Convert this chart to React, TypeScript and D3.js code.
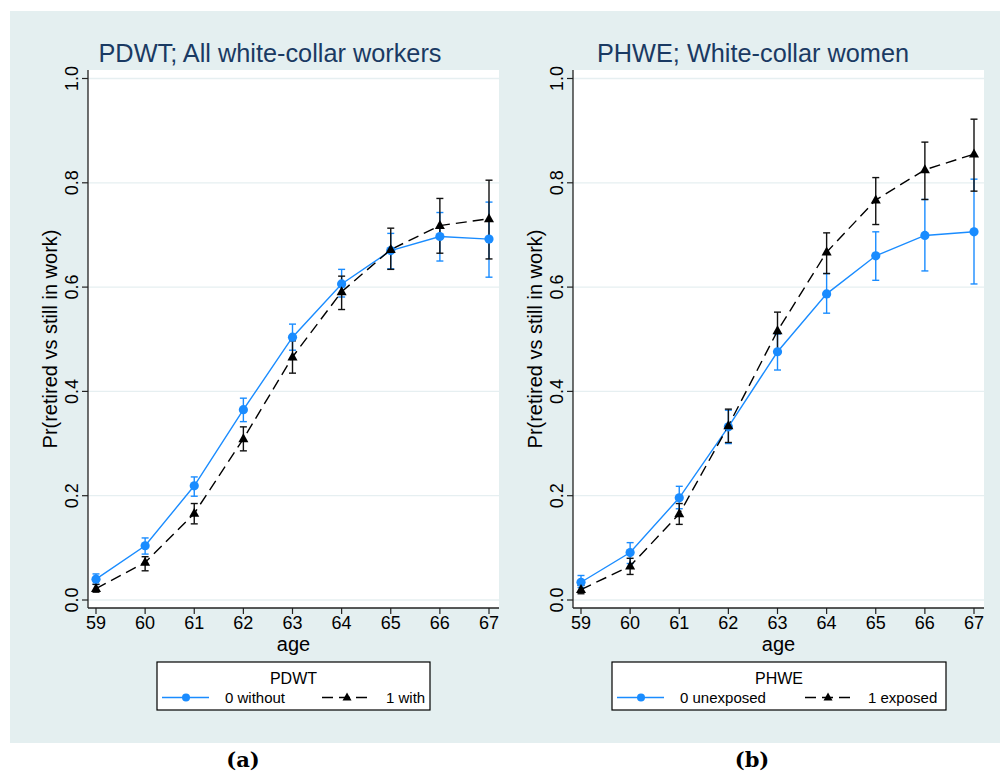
import React from "react";
import * as d3 from "d3";

const ages = [59, 60, 61, 62, 63, 64, 65, 66, 67];
const yTicks = [0, 0.2, 0.4, 0.6, 0.8, 1.0];

const leftWithout = [0.040, 0.104, 0.219, 0.365, 0.504, 0.606, 0.670, 0.697, 0.692];
const leftWithoutLo = [0.030, 0.088, 0.199, 0.342, 0.479, 0.581, 0.635, 0.650, 0.619];
const leftWithoutHi = [0.050, 0.119, 0.236, 0.387, 0.529, 0.634, 0.703, 0.743, 0.763];
const leftWith = [0.022, 0.072, 0.166, 0.309, 0.466, 0.591, 0.672, 0.718, 0.731];
const leftWithLo = [0.015, 0.056, 0.146, 0.286, 0.435, 0.557, 0.634, 0.665, 0.654];
const leftWithHi = [0.030, 0.083, 0.185, 0.332, 0.497, 0.621, 0.713, 0.770, 0.805];

const rightUnexp = [0.034, 0.091, 0.196, 0.332, 0.476, 0.587, 0.660, 0.699, 0.706];
const rightUnexpLo = [0.024, 0.070, 0.175, 0.300, 0.441, 0.550, 0.613, 0.631, 0.606];
const rightUnexpHi = [0.047, 0.110, 0.218, 0.364, 0.510, 0.626, 0.706, 0.768, 0.807];
const rightExp = [0.020, 0.065, 0.165, 0.334, 0.516, 0.667, 0.767, 0.825, 0.855];
const rightExpLo = [0.012, 0.049, 0.145, 0.302, 0.480, 0.626, 0.720, 0.768, 0.784];
const rightExpHi = [0.028, 0.080, 0.185, 0.366, 0.552, 0.704, 0.810, 0.878, 0.922];

const BLUE = "#1a8cff";
const BG = "#e4eff0";
const GRID = "#e6eff1";
const FONT = "'Liberation Sans', Arial, sans-serif";
const TITLE_COLOR = "#1a3a63";

type PanelProps = {
  left: number;
  right: number;
  title: string;
  titleX: number;
  legendTitle: string;
  label0: string;
  label1: string;
  legendBox: [number, number];
  leg0: [number, number, number, number];
  leg1: [number, number, number, number];
  s0: number[];
  s0lo: number[];
  s0hi: number[];
  s1: number[];
  s1lo: number[];
  s1hi: number[];
  caption: string;
  captionX: number;
};

const TOP = 70;
const BOTTOM = 608;

function triPath(cx: number, cy: number, s: number) {
  const h = s * 0.9;
  return `M${cx},${cy - h * 0.62}L${cx + s / 2},${cy + h * 0.38}L${cx - s / 2},${cy + h * 0.38}Z`;
}

function Panel(p: PanelProps) {
  const x = d3.scaleLinear().domain([59, 67]).range([p.left + 8, p.left + 401]);
  const y = d3.scaleLinear().domain([0, 1]).range([600, 78.5]);
  const line = d3
    .line<number>()
    .x((_, i) => x(ages[i]))
    .y((d) => y(d));
  const cap = 3.5;
  const midX = (p.left + p.right) / 2;
  const midY = (TOP + BOTTOM) / 2;
  return (
    <g>
      <rect x={p.left} y={TOP} width={p.right - p.left} height={BOTTOM - TOP} fill="#fff" />
      {yTicks.map((t) => (
        <line key={"g" + t} x1={p.left} x2={p.right} y1={y(t)} y2={y(t)} stroke={GRID} strokeWidth={1.3} />
      ))}
      {ages.map((a, i) => (
        <g key={"e0" + a} stroke={BLUE} strokeWidth={1.4}>
          <line x1={x(a)} x2={x(a)} y1={y(p.s0lo[i])} y2={y(p.s0hi[i])} />
          <line x1={x(a) - cap} x2={x(a) + cap} y1={y(p.s0lo[i])} y2={y(p.s0lo[i])} />
          <line x1={x(a) - cap} x2={x(a) + cap} y1={y(p.s0hi[i])} y2={y(p.s0hi[i])} />
        </g>
      ))}
      {ages.map((a, i) => (
        <g key={"e1" + a} stroke="#111" strokeWidth={1.4}>
          <line x1={x(a)} x2={x(a)} y1={y(p.s1lo[i])} y2={y(p.s1hi[i])} />
          <line x1={x(a) - cap} x2={x(a) + cap} y1={y(p.s1lo[i])} y2={y(p.s1lo[i])} />
          <line x1={x(a) - cap} x2={x(a) + cap} y1={y(p.s1hi[i])} y2={y(p.s1hi[i])} />
        </g>
      ))}
      <path d={line(p.s0) || ""} fill="none" stroke={BLUE} strokeWidth={1.4} />
      <path d={line(p.s1) || ""} fill="none" stroke="#000" strokeWidth={1.4} strokeDasharray="11,6" />
      {ages.map((a, i) => (
        <circle key={"m0" + a} cx={x(a)} cy={y(p.s0[i])} r={4.6} fill={BLUE} />
      ))}
      {ages.map((a, i) => (
        <path key={"m1" + a} d={triPath(x(a), y(p.s1[i]), 10)} fill="#000" />
      ))}
      <line x1={p.left} x2={p.left} y1={TOP} y2={BOTTOM} stroke="#222" strokeWidth={1.3} />
      <line x1={p.left} x2={p.right} y1={BOTTOM} y2={BOTTOM} stroke="#222" strokeWidth={1.3} />
      {yTicks.map((t) => (
        <g key={"yt" + t}>
          <line x1={p.left - 6} x2={p.left} y1={y(t)} y2={y(t)} stroke="#222" strokeWidth={1.2} />
          <text
            transform={`translate(${p.left - 10.5},${y(t)}) rotate(-90)`}
            textAnchor="middle"
            fontFamily={FONT}
            fontSize={18}
            fill="#000"
          >
            {t.toFixed(1)}
          </text>
        </g>
      ))}
      {ages.map((a) => (
        <g key={"xt" + a}>
          <line x1={x(a)} x2={x(a)} y1={BOTTOM} y2={BOTTOM + 6} stroke="#222" strokeWidth={1.2} />
          <text x={x(a)} y={629} textAnchor="middle" fontFamily={FONT} fontSize={18} fill="#000">
            {a}
          </text>
        </g>
      ))}
      <text x={midX} y={651} textAnchor="middle" fontFamily={FONT} fontSize={20} fill="#000">
        age
      </text>
      <text
        transform={`translate(${p.left - 31},${midY}) rotate(-90)`}
        textAnchor="middle"
        fontFamily={FONT}
        fontSize={20}
        fill="#000"
      >
        Pr(retired vs still in work)
      </text>
      <text x={p.titleX} y={62} textAnchor="middle" fontFamily={FONT} fontSize={25.3} fill={TITLE_COLOR}>
        {p.title}
      </text>
      <rect
        x={p.legendBox[0]}
        y={662}
        width={p.legendBox[1] - p.legendBox[0]}
        height={48}
        fill="#fff"
        stroke="#000"
        strokeWidth={1.2}
      />
      <text
        x={(p.legendBox[0] + p.legendBox[1]) / 2}
        y={683.5}
        textAnchor="middle"
        fontFamily={FONT}
        fontSize={16}
        fill="#000"
      >
        {p.legendTitle}
      </text>
      <line x1={p.leg0[0]} x2={p.leg0[1]} y1={697.5} y2={697.5} stroke={BLUE} strokeWidth={1.4} />
      <circle cx={p.leg0[2]} cy={697.5} r={4} fill={BLUE} />
      <text x={p.leg0[3]} y={703} fontFamily={FONT} fontSize={15} fill="#000">
        {p.label0}
      </text>
      <line
        x1={p.leg1[0]}
        x2={p.leg1[1]}
        y1={697.5}
        y2={697.5}
        stroke="#000"
        strokeWidth={1.4}
        strokeDasharray="11,6"
      />
      <path d={triPath(p.leg1[2], 697.5, 9)} fill="#000" />
      <text x={p.leg1[3]} y={703} fontFamily={FONT} fontSize={15} fill="#000">
        {p.label1}
      </text>
      <text
        x={p.captionX}
        y={767}
        textAnchor="middle"
        fontFamily="'DejaVu Serif', 'Liberation Serif', serif"
        fontWeight="bold"
        fontSize={21}
        fill="#000"
      >
        {p.caption}
      </text>
    </g>
  );
}

export default function App() {
  return (
    <svg
      width={1000}
      height={773}
      style={{ position: "absolute", left: 0, top: 0, background: "#fff" }}
    >
      <rect x={10} y={11} width={990} height={732} fill={BG} />
      <Panel
        left={88}
        right={499}
        title="PDWT; All white-collar workers"
        titleX={270}
        legendTitle="PDWT"
        label0="0 without"
        label1="1 with"
        legendBox={[157, 430]}
        leg0={[162, 209, 186, 225]}
        leg1={[322, 369, 347, 386]}
        s0={leftWithout}
        s0lo={leftWithoutLo}
        s0hi={leftWithoutHi}
        s1={leftWith}
        s1lo={leftWithLo}
        s1hi={leftWithHi}
        caption="(a)"
        captionX={243}
      />
      <Panel
        left={573}
        right={984}
        title="PHWE; White-collar women"
        titleX={753}
        legendTitle="PHWE"
        label0="0 unexposed"
        label1="1 exposed"
        legendBox={[612, 946]}
        leg0={[617, 664, 641, 680]}
        leg1={[805, 852, 828, 868]}
        s0={rightUnexp}
        s0lo={rightUnexpLo}
        s0hi={rightUnexpHi}
        s1={rightExp}
        s1lo={rightExpLo}
        s1hi={rightExpHi}
        caption="(b)"
        captionX={752}
      />
    </svg>
  );
}
